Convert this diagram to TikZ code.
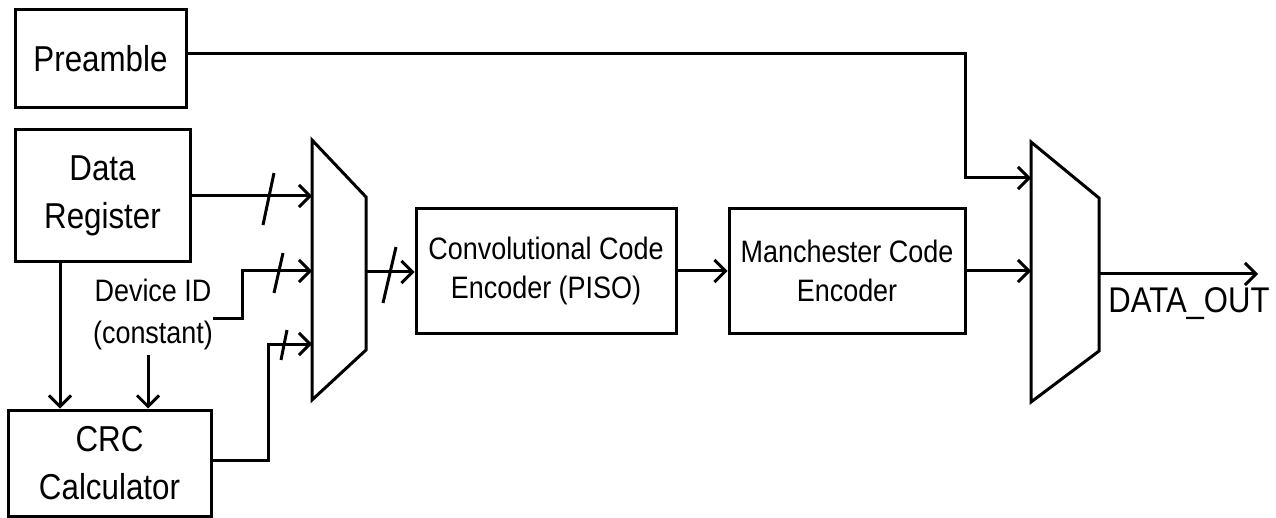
\documentclass[tikz,border=0pt]{standalone}
\usepackage{fontspec}
\setmainfont{Liberation Sans}
\newfontfamily\narrowsans[FakeStretch=0.87]{Liberation Sans}
\usetikzlibrary{arrows.meta,calc}
\begin{document}
\begin{tikzpicture}[x=1pt,y=-1pt,
  line width=3pt,
  blk/.style={draw,rectangle,inner sep=0pt,align=center,line width=3pt},
  big/.style={font=\narrowsans\fontsize{36}{48}\selectfont},
  small/.style={font=\narrowsans\fontsize{31}{39}\selectfont},
  arr/.style={-{Straight Barb[length=11pt,width=22pt]}},
  muxs/.style={draw,line join=miter}]
\useasboundingbox (0,0) rectangle (1276,518);
% boxes
\node[blk,big,minimum width=171pt,minimum height=98pt] (pre) at (100.5,59) {Preamble};
\node[blk,big,minimum width=175pt,minimum height=132pt] (dr) at (102.5,196) {Data\\Register};
\node[blk,big,minimum width=203pt,minimum height=106pt] (crc) at (109.5,463) {CRC\\Calculator};
\node[blk,small,minimum width=260pt,minimum height=124pt] (conv) at (546,271) {Convolutional Code\\Encoder (PISO)};
\node[blk,small,minimum width=236pt,minimum height=124pt] (man) at (847,271) {Manchester Code\\Encoder};
\node[font=\narrowsans\fontsize{31}{42}\selectfont,align=center,inner sep=0pt] (dev) at (153,314) {Device ID\\(constant)};
\node[font=\narrowsans\fontsize{35.7}{40}\selectfont,inner sep=0pt] (dout) at (1189,304) {DATA\_OUT};
% mux 1
\coordinate (m1a) at (312,140);
\coordinate (m1b) at (366,197);
\coordinate (m1c) at (366,350);
\coordinate (m1d) at (312,400);
\coordinate (m1in1) at (312,196);
\coordinate (m1in2) at (312,271);
\coordinate (m1in3) at (312,344);
\coordinate (m1out) at (366,272);
\draw[muxs] (m1a) -- (m1b) -- (m1c) -- (m1d) -- cycle;
% mux 2
\coordinate (m2a) at (1031,142);
\coordinate (m2b) at (1099,198);
\coordinate (m2c) at (1099,351);
\coordinate (m2d) at (1031,402);
\coordinate (m2in1) at (1031,178);
\coordinate (m2in2) at (1031,271);
\coordinate (m2out) at (1099,274);
\coordinate (oend) at (1258,274);
\draw[muxs] (m2a) -- (m2b) -- (m2c) -- (m2d) -- cycle;
% helper coordinates
\coordinate (preout) at (186,54);
\coordinate (pturn) at (965,178);
\coordinate (drx) at (60,0);
\coordinate (devout) at (213,319);
\coordinate (dvtop) at (148,355);
% connectors
\draw[arr] (preout) -| (pturn) -- (m2in1);
\draw[arr] (dr.east) -- (m1in1);
\draw[arr] (devout) -- ++(29,0) |- (m1in2);
\draw[arr] ($(crc.east)+(0,-3)$) -- ++(56,0) |- (m1in3);
\draw[arr] (dr.south -| drx) -- (crc.north -| drx);
\draw[arr] (dvtop) -- (crc.north -| dvtop);
\draw[arr] (m1out) -- (m1out -| conv.west);
\draw[arr] (conv.east) -- (man.west);
\draw[arr] (man.east) -- (m2in2);
\draw[arr] (m2out) -- (oend);
% bus slashes
\draw (274,173) -- (263,225);
\draw (283,253) -- (274,293);
\draw (287,330) -- (281,360);
\draw (396,247) -- (383,303);
\end{tikzpicture}
\end{document}
